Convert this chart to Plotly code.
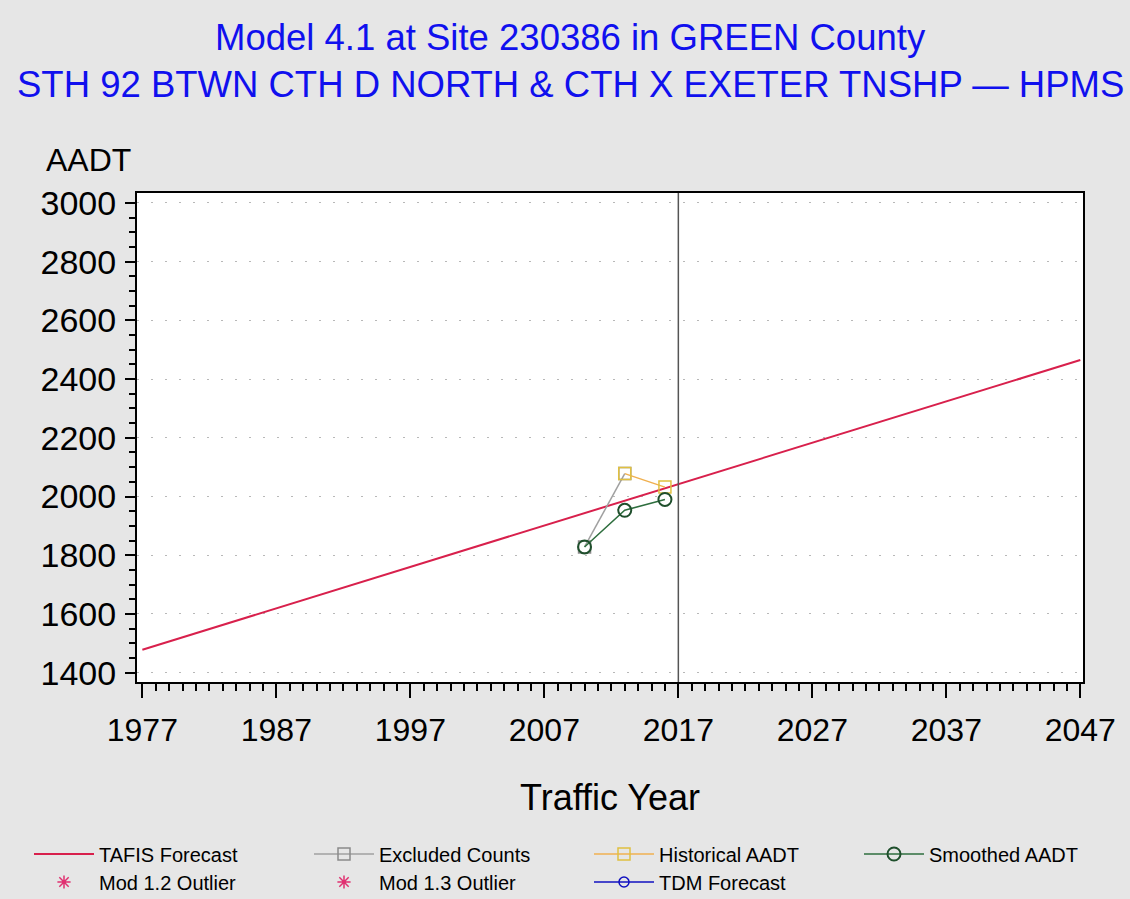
import plotly.graph_objects as go

# ---- data ----
tafis_years = [1977, 2047]
tafis_aadt = [1478, 2465]

excluded_years = [2010, 2013]
excluded_aadt = [1828, 2078]

historical_years = [2013, 2016]
historical_aadt = [2078, 2032]

smoothed_years = [2010, 2013, 2016]
smoothed_aadt = [1828, 1953, 1990]

mod12_years, mod12_aadt = [None], [None]
mod13_years, mod13_aadt = [None], [None]
tdm_years, tdm_aadt = [None], [None]

current_year = 2017

title_line1 = "Model 4.1 at Site 230386 in GREEN County"
title_line2 = "STH 92 BTWN CTH D NORTH &amp; CTH X EXETER TNSHP \u2014 HPMS"

FONT = "Liberation Sans, Arial, sans-serif"

fig = go.Figure()

fig.add_trace(go.Scatter(x=tafis_years, y=tafis_aadt, mode="lines", name="TAFIS Forecast",
                         line=dict(color="#d8204c", width=2), legend="legend"))
fig.add_trace(go.Scatter(x=excluded_years, y=excluded_aadt, mode="lines+markers", name="Excluded Counts",
                         line=dict(color="#a0a0a0", width=1.5),
                         marker=dict(symbol="square-open", size=12, color="#8a8a8a", line=dict(width=1.5)),
                         legend="legend"))
fig.add_trace(go.Scatter(x=historical_years, y=historical_aadt, mode="lines+markers", name="Historical AADT",
                         line=dict(color="#f0b050", width=1.5),
                         marker=dict(symbol="square-open", size=12, color="#e0c040", line=dict(width=1.5)),
                         legend="legend"))
fig.add_trace(go.Scatter(x=smoothed_years, y=smoothed_aadt, mode="lines+markers", name="Smoothed AADT",
                         line=dict(color="#2e6e3e", width=1.5),
                         marker=dict(symbol="circle-open", size=13, color="#1f4f2c", line=dict(width=2)),
                         legend="legend3"))
fig.add_trace(go.Scatter(x=mod12_years, y=mod12_aadt, mode="markers", name="Mod 1.2 Outlier",
                         marker=dict(symbol="asterisk-open", size=11, color="#e03070", line=dict(width=1.5)),
                         legend="legend2"))
fig.add_trace(go.Scatter(x=mod13_years, y=mod13_aadt, mode="markers", name="Mod 1.3 Outlier",
                         marker=dict(symbol="asterisk-open", size=11, color="#e03070", line=dict(width=1.5)),
                         legend="legend2"))
fig.add_trace(go.Scatter(x=tdm_years, y=tdm_aadt, mode="lines+markers", name="TDM Forecast",
                         line=dict(color="#1010c0", width=1.5),
                         marker=dict(symbol="circle-open", size=10, color="#1010c0", line=dict(width=1.5)),
                         legend="legend2"))

# reference line at current year
fig.add_shape(type="line", x0=current_year, x1=current_year, xref="x", y0=0, y1=1, yref="paper",
              line=dict(color="#555555", width=1.5))

L, R, T, B = 137, 47, 193, 217
W, H = 1130, 899
pw = W - L - R
ph = H - T - B

def px_x(px):
    return (px - L) / pw

def px_y(py):
    return (H - B - py) / ph

annots = [
    dict(text=title_line1, x=px_x(570), y=px_y(38), xref="paper", yref="paper", showarrow=False,
         xanchor="center", yanchor="middle", font=dict(family=FONT, size=36.5, color="#1010ee")),
    dict(text=title_line2, x=px_x(570), y=px_y(85), xref="paper", yref="paper", showarrow=False,
         xanchor="center", yanchor="middle", font=dict(family=FONT, size=36.5, color="#1010ee")),
    dict(text="AADT", x=px_x(44), y=px_y(160), xref="paper", yref="paper", showarrow=False,
         xanchor="left", yanchor="middle", font=dict(family=FONT, size=32, color="black")),
    dict(text="Traffic Year", x=px_x(610), y=px_y(797), xref="paper", yref="paper", showarrow=False,
         xanchor="center", yanchor="middle", font=dict(family=FONT, size=36, color="black")),
]

leg_common = dict(orientation="h", xanchor="left", yanchor="middle",
                  entrywidth=205, entrywidthmode="pixels", itemwidth=60,
                  bgcolor="rgba(0,0,0,0)", font=dict(family=FONT, size=20, color="black"),
                  traceorder="normal")

fig.update_layout(
    width=W, height=H,
    margin=dict(l=L, r=R, t=T, b=B, pad=0, autoexpand=False),
    paper_bgcolor="#e6e6e6",
    plot_bgcolor="white",
    font=dict(family=FONT, color="black"),
    annotations=annots,
    showlegend=True,
    legend=dict(x=px_x(29), y=px_y(854), **leg_common),
    legend2=dict(x=px_x(29), y=px_y(882), **leg_common),
    legend3=dict(x=px_x(859), y=px_y(854), **leg_common),
)

fig.update_xaxes(
    range=[1976.6, 2047.2], tickmode="linear", tick0=1977, dtick=10,
    ticks="outside", ticklen=14, tickwidth=2, tickcolor="black",
    minor=dict(dtick=1, tick0=1977, ticks="outside", ticklen=7, tickwidth=1.5, tickcolor="black", showgrid=False),
    showline=True, linecolor="black", linewidth=2, mirror=True,
    showgrid=False, zeroline=False, automargin=False,
    tickfont=dict(family=FONT, size=32, color="black"), ticklabelstandoff=5,
)
fig.update_yaxes(
    range=[1368, 3034], tickmode="linear", tick0=1400, dtick=200,
    ticks="outside", ticklen=10, tickwidth=2, tickcolor="black",
    minor=dict(dtick=50, tick0=1400, ticks="outside", ticklen=6, tickwidth=1.5, tickcolor="black", showgrid=False),
    showline=True, linecolor="black", linewidth=2, mirror=True,
    showgrid=True, gridcolor="#b8b8b8", gridwidth=1, griddash="2px,12px", zeroline=False, automargin=False,
    tickfont=dict(family=FONT, size=34, color="black"), ticklabelstandoff=2,
)

fig.write_html(
    "out.html",
    config={"displayModeBar": False},
    post_script="document.body.style.margin='0';document.body.style.background='#e6e6e6';",
)
